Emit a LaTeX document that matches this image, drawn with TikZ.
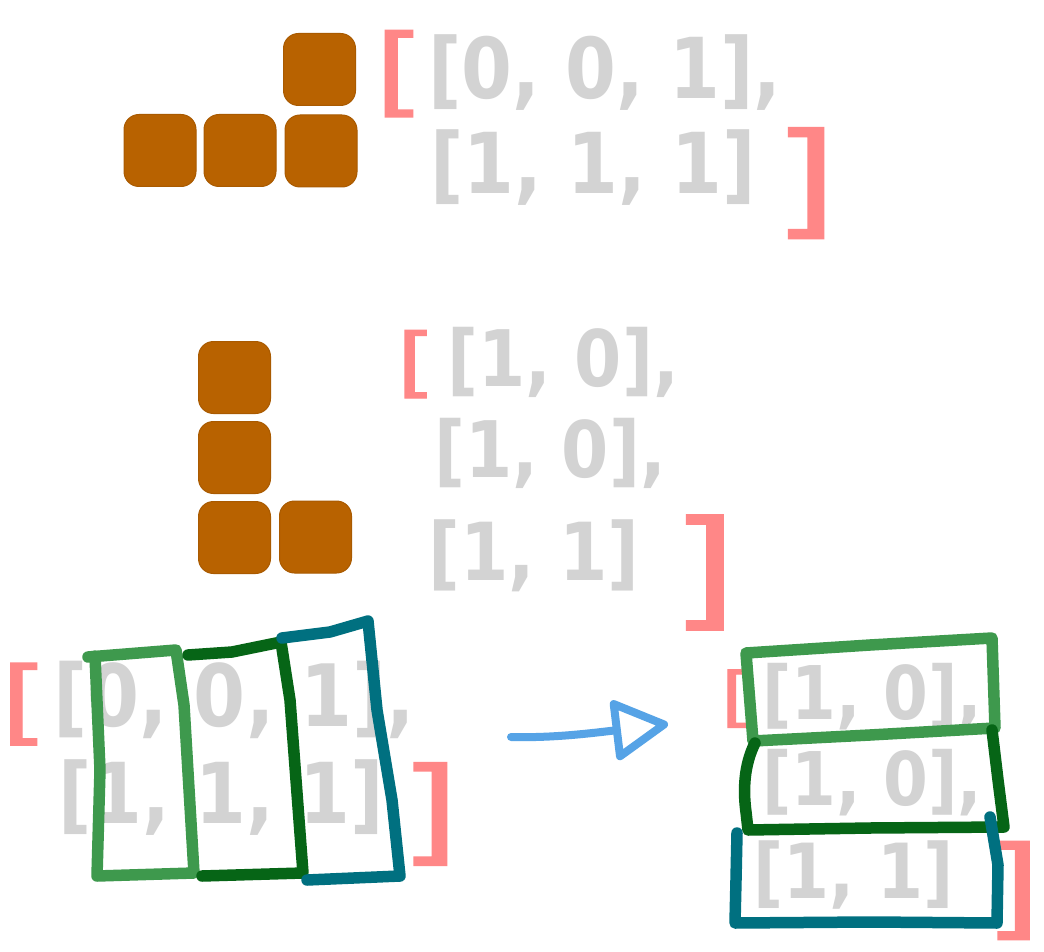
\documentclass[tikz,border=0pt]{standalone}
\usepackage{fontspec}
\usetikzlibrary{arrows.meta}

% fonts: a slightly condensed bold sans for the matrix rows, a widened sans for the outer brackets
\newfontfamily\sketchfont{DejaVu Sans}[FakeStretch=0.87]
\newfontfamily\bracketfont{DejaVu Sans}[FakeStretch=1.35, FakeBold=1.5]

\definecolor{inkgray}{RGB}{211,211,211}
\definecolor{inkred}{RGB}{255,135,135}
\definecolor{blockbrown}{RGB}{184,98,0}
\definecolor{inkgreen}{RGB}{62,153,77}
\definecolor{inkdarkgreen}{RGB}{6,101,22}
\definecolor{inkteal}{RGB}{0,112,128}
\definecolor{inkblue}{RGB}{86,163,230}

\tikzset{
  row/.style={inner sep=0pt, text=inkgray, anchor=base west,
    font=\sketchfont\bfseries\fontsize{#1}{#1}\selectfont},
  outer/.style={inner sep=0pt, text=inkred,
    font=\bracketfont\fontsize{#1}{#1}\selectfont},
  block/.style={fill=blockbrown, draw=blockbrown!92!black, line width=1pt,
    rounded corners=15pt, minimum width=72pt, minimum height=72pt, inner sep=0pt},
  pen/.style={line width=#1, line cap=round, line join=round},
}

\begin{document}
\begin{tikzpicture}[x=1pt,y=-1pt]
\fill[white] (0,0) rectangle (1044,952);
\useasboundingbox (0,0) rectangle (1044,952);

% ---- first piece: three in a row with one on top
\node[block] (t1) at (319.5,69.5) {};
\node[block] (t2) at (160,150.5) {};
\node[block] (t3) at (240,150.5) {};
\node[block] (t4) at (321,151) {};

\node[row=84] (m1r1) at (428,99) {[0, 0, 1],};
\node[row=84] (m1r2) at (430,194) {[1, 1, 1]};
\node[outer=97, anchor=base west] (m1open) at (374,104) {[};
\node[outer=124, anchor=base east] (m1close) at (838,222) {]};

% ---- second piece: the L shape
\node[block] (l1) at (234.5,377.5) {};
\node[block] (l2) at (234.5,457.5) {};
\node[block] (l3) at (234.5,537.5) {};
\node[block] (l4) at (315.5,537) {};

\node[row=78] (m2r1) at (447,386) {[1, 0],};
\node[row=78] (m2r2) at (434,477) {[1, 0],};
\node[row=80] (m2r3) at (428,580) {[1, 1]};
\node[outer=76, anchor=base west] (m2open) at (396,388) {[};
\node[outer=129, anchor=base east] (m2close) at (738,613) {]};

% ---- bottom left: columns of the first matrix
\node[row=86] (m3r1) at (53,726) {[0, 0, 1],};
\node[row=84] (m3r2) at (58,823) {[1, 1, 1]};
\node[outer=92, anchor=base west] (m3open) at (0,733) {[};
\node[outer=115, anchor=base east] (m3close) at (460,850) {]};

\draw[pen=11.5pt, inkgreen] (88,657) -- (176,650) -- (184,705) -- (194,873)
  -- (97,876) -- (100,770) -- (95,656);
\draw[pen=11.5pt, inkdarkgreen] (188,655) -- (232,652) -- (281,642) -- (290,700)
  -- (303,873) -- (202,876);
\draw[pen=11.5pt, inkteal] (282,638) -- (330,632) -- (368,621) -- (377,710)
  -- (392,800) -- (400,876) -- (307,880);

% ---- transformation arrow
\coordinate (arrowtail) at (511,737);
\coordinate (arrowtip) at (668,724);
\draw[pen=8pt, inkblue, -{Triangle[open, round, length=60pt, width=64pt]}]
  (arrowtail) .. controls (550,738) and (585,734) .. (arrowtip);

% ---- bottom right: rows of the rotated matrix
\node[row=74] (m4r1) at (762,719) {[1, 0],};
\node[row=74] (m4r2) at (762,805) {[1, 0],};
\node[row=76] (m4r3) at (753,898) {[1, 1]};
\node[outer=65, anchor=base west] (m4open) at (720,719) {[};
\node[outer=110, anchor=base east] (m4close) at (1042,925) {]};

\draw[pen=11.5pt, inkgreen] (746,653) -- (870,645) -- (992,638) -- (995,728)
  -- (870,735) -- (753,741) -- cycle;
\draw[pen=11.5pt, inkdarkgreen] (755,743) .. controls (744,765) and (743,790) .. (746,812)
  -- (748,830) -- (870,828) -- (1004,827) -- (998,780) -- (992,730);
\draw[pen=11.5pt, inkteal] (737,833) -- (736,880) -- (735,923) -- (870,922)
  -- (997,923) -- (998,865) -- (990,817);
\end{tikzpicture}
\end{document}
